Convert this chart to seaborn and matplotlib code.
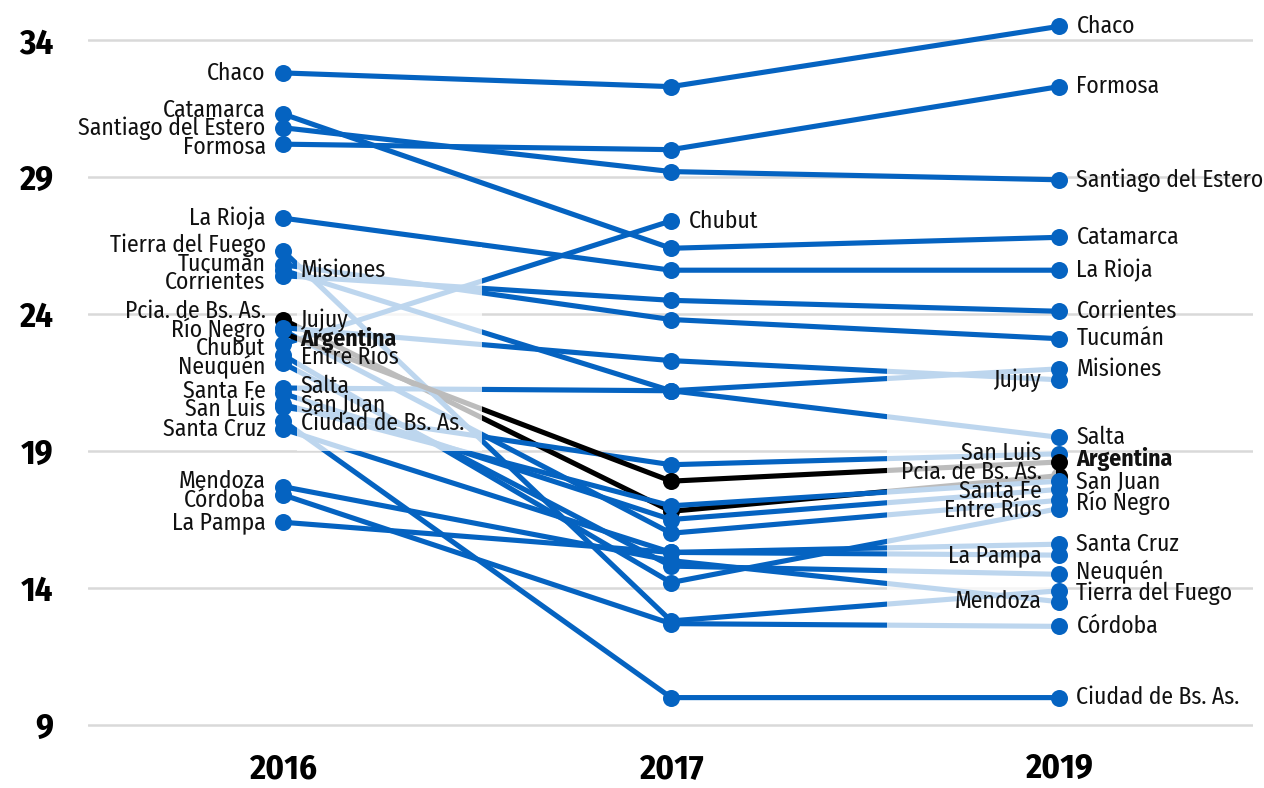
import numpy as np
import pandas as pd
import matplotlib
matplotlib.use("Agg")
import matplotlib.pyplot as plt
import seaborn as sns
from matplotlib import font_manager as fm
from matplotlib.patches import Rectangle

# --- data ---
years = ["2016", "2017", "2019"]
names = ["Chaco", "Catamarca", "Santiago del Estero", "Formosa", "La Rioja",
         "Tierra del Fuego", "Tucumán", "Misiones", "Corrientes", "Pcia. de Bs. As.",
         "Jujuy", "Río Negro", "Argentina", "Chubut", "Entre Ríos", "Neuquén",
         "Salta", "Santa Fe", "San Juan", "San Luis", "Ciudad de Bs. As.",
         "Santa Cruz", "Mendoza", "Córdoba", "La Pampa"]
v2016 = [32.8, 31.3, 30.8, 30.2, 27.5, 26.3, 25.8, 25.6, 25.4, 23.8,
         23.5, 23.4, 23.3, 22.9, 22.5, 22.2, 21.3, 21.1, 20.7, 20.6,
         20.1, 19.8, 17.7, 17.4, 16.4]
v2017 = [32.3, 26.4, 29.2, 30.0, 25.6, 12.8, 23.8, 21.2, 24.5, 16.8,
         22.3, 16.0, 17.9, 27.4, 14.2, 14.8, 21.2, 16.5, 17.0, 18.5,
         10.0, 15.3, 15.0, 12.7, 15.3]
v2019 = [34.5, 26.8, 28.9, 32.3, 25.6, 13.9, 23.1, 22.0, 24.1, 18.1,
         21.6, 17.2, 18.6, np.nan, 16.9, 14.5, 19.5, 17.6, 17.9, 18.9,
         10.0, 15.6, 13.5, 12.6, 15.2]
highlight = ["Argentina", "Pcia. de Bs. As."]
# labels drawn on the "inner" side to dodge crowding
right_2016 = ["Misiones", "Jujuy", "Argentina", "Entre Ríos", "Salta",
              "San Juan", "Ciudad de Bs. As."]
left_2019 = ["Jujuy", "San Luis", "Pcia. de Bs. As.", "Santa Fe", "Entre Ríos",
             "La Pampa", "Mendoza"]
yticks = [9, 14, 19, 24, 29, 34]

BLUE = "#0563c1"
BLACK = "#000000"

# pick a condensed face if one is installed
installed = {f.name for f in fm.fontManager.ttflist}
prefs = ["Fira Sans Condensed", "Roboto Condensed", "Asap Condensed",
         "Barlow Semi Condensed", "Archivo Narrow"]
FONT = [f for f in prefs if f in installed][:1] + ["DejaVu Sans"]

df = pd.DataFrame({"name": names, "2016": v2016, "2017": v2017, "2019": v2019})
long = df.melt(id_vars="name", var_name="year", value_name="value").dropna()
long["pos"] = long["year"].map({y: i for i, y in enumerate(years)})
long["kind"] = np.where(long["name"].isin(highlight), "hl", "prov")

sns.set_theme(style="white")
plt.rcParams["font.family"] = FONT

fig = plt.figure(figsize=(12.64, 7.88), dpi=100)
ax = fig.add_axes([88 / 1264, 43 / 788, 1165 / 1264, 737 / 788])
ax.set_xlim(-0.503, 2.5)
ax.set_ylim(8.27, 35.17)

for y in yticks:
    ax.axhline(y, color="#d9d9d9", lw=1.8, zorder=0)

pcia = long[long["name"] == "Pcia. de Bs. As."]
arg = long[long["name"] == "Argentina"]
prov = long[long["kind"] == "prov"]

lw = 3.7
ms = 150
# Pcia. de Bs. As. sits underneath everything, Argentina on top
sns.lineplot(data=pcia, x="pos", y="value", units="name", estimator=None, sort=False,
             color=BLACK, lw=lw, ax=ax, zorder=1.5, legend=False)
sns.scatterplot(data=pcia, x="pos", y="value", color=BLACK, s=ms, linewidth=0,
                ax=ax, zorder=1.6, legend=False)
sns.lineplot(data=prov, x="pos", y="value", units="name", estimator=None, sort=False,
             color=BLUE, lw=lw, ax=ax, zorder=2, legend=False)
sns.lineplot(data=arg, x="pos", y="value", units="name", estimator=None, sort=False,
             color=BLACK, lw=lw, ax=ax, zorder=2.2, legend=False)
sns.scatterplot(data=prov, x="pos", y="value", color=BLUE, s=ms, linewidth=0,
                ax=ax, zorder=4, legend=False)
sns.scatterplot(data=arg[arg["year"] != "2016"], x="pos", y="value", color=BLACK,
                s=ms, linewidth=0, ax=ax, zorder=4.2, legend=False)


def repel(vals, gap=0.68, n_iter=300):
    order = np.argsort(-np.asarray(vals))
    y = np.asarray(vals, dtype=float)[order].copy()
    for _ in range(n_iter):
        moved = False
        for i in range(len(y) - 1):
            d = y[i] - y[i + 1]
            if d < gap:
                s = (gap - d) / 2
                y[i] += s
                y[i + 1] -= s
                moved = True
        if not moved:
            break
    out = np.empty_like(y)
    out[order] = y
    return out


def put_labels(col, pos, side, subset, gap=0.68):
    sub = df[df["name"].isin(subset) & df[col].notna()]
    ys = repel(sub[col].values, gap=gap)
    dx = 0.045 if side == "right" else -0.045
    ha = "left" if side == "right" else "right"
    texts = []
    for nm, y in zip(sub["name"], ys):
        t = ax.text(pos + dx, y, nm, ha=ha, va="center", fontsize=17,
                    fontweight="bold" if nm == "Argentina" else "normal",
                    color="#111111", zorder=6)
        texts.append(t)
    return texts


left16 = [n for n in names if n not in right_2016]
put_labels("2016", 0, "left", left16)
t_r16 = put_labels("2016", 0, "right", right_2016)
t_l19 = put_labels("2019", 2, "left", left_2019, gap=0.7)
right19 = [n for n in names if n not in left_2019]
put_labels("2019", 2, "right", right19, gap=0.8)
# Chubut has no 2019 value, so it is labelled at 2017
put_labels("2017", 1, "right", ["Chubut"])

# translucent white panel behind the inner label groups
fig.canvas.draw()
renderer = fig.canvas.get_renderer()
inv = ax.transData.inverted()
for grp, padx in [(t_r16, (4, 18)), (t_l19, (14, 14))]:
    bbs = [t.get_window_extent(renderer) for t in grp]
    x0 = min(b.x0 for b in bbs) - padx[0]
    x1 = max(b.x1 for b in bbs) + padx[1]
    y0 = min(b.y0 for b in bbs) - 16
    y1 = max(b.y1 for b in bbs) + 12
    (dx0, dy0), (dx1, dy1) = inv.transform([(x0, y0), (x1, y1)])
    ax.add_patch(Rectangle((dx0, dy0), dx1 - dx0, dy1 - dy0, facecolor="white",
                           edgecolor="none", alpha=0.74, zorder=3))

ax.set_xticks(range(len(years)))
ax.set_xticklabels(years, fontsize=25, fontweight="bold", color="black")
ax.set_yticks(yticks)
ax.set_yticklabels([str(y) for y in yticks], fontsize=25, fontweight="bold", color="black")
ax.tick_params(axis="x", length=0, pad=5)
ax.tick_params(axis="y", length=0, pad=25)
ax.set_xlabel("")
ax.set_ylabel("")
sns.despine(ax=ax, left=True, bottom=True)

fig.savefig("out.png", dpi=100)
